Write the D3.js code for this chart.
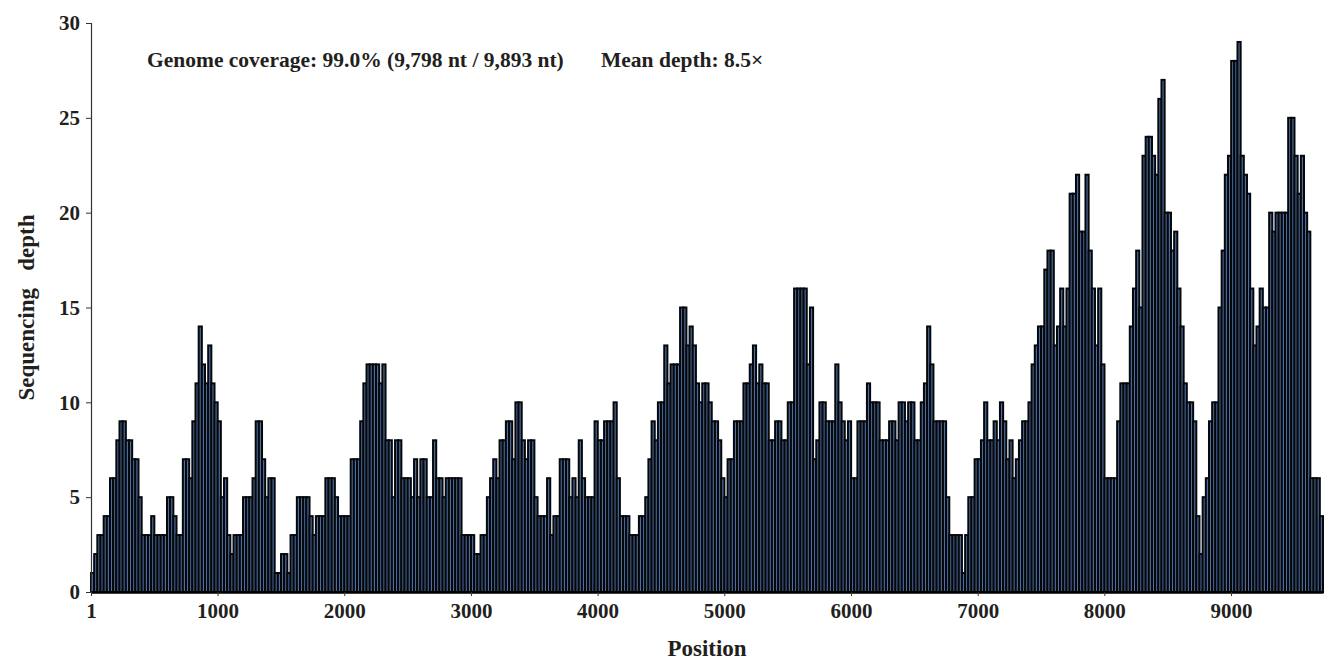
<!DOCTYPE html>
<html>
<head>
<meta charset="utf-8">
<script src="https://cdn.jsdelivr.net/npm/d3@7"></script>
<style>
html,body{margin:0;padding:0;background:#fff;}
svg{display:block;}
text{font-family:"Liberation Serif","Times New Roman",serif;font-weight:bold;fill:#231f20;}
</style>
</head>
<body>
<svg id="chart" width="1325" height="669"></svg>
<script>
// bin width (nt) and depth per bin
const binSize = 25;
const depth = [
 1,2,3,3,4,4,6,6,8,9,9,8,8,7,7,5,3,3,3,4,3,3,3,3,5,5,4,3,3,7,7,6,9,11,14,12,11,13,11,10,
 9,5,6,3,2,3,3,3,5,5,5,6,9,9,7,5,6,6,1,1,2,2,1,3,3,
 5,5,5,5,4,3,4,4,4,6,6,6,5,4,4,4,4,7,7,7,9,11,12,12,12,12,11,12,8,8,5,8,8,6,6,6,5,7,5,7,
 7,5,5,8,6,6,5,6,6,6,6,6,3,3,3,3,2,2,3,3,5,6,7,6,8,
 8,9,9,7,10,10,8,7,8,8,5,4,4,4,6,3,4,4,7,7,7,5,6,5,8,6,5,5,5,9,8,8,9,9,9,10,6,4,4,4,
 3,3,3,4,4,5,7,9,8,10,10,13,11,12,12,12,15,15,13,14,13,11,10,11,
 11,10,9,9,8,6,5,7,7,9,9,9,11,11,12,13,11,12,11,11,8,8,9,9,8,8,10,10,16,16,16,16,12,15,7,8,
 10,10,9,9,9,12,10,9,8,9,6,6,9,9,9,11,10,10,10,8,8,8,9,9,8,10,10,9,10,
 10,8,8,10,11,14,12,9,9,9,9,5,3,3,3,3,1,3,5,5,7,7,8,10,8,8,9,8,10,9,7,8,6,7,8,9,9,10,12,13,
 14,14,17,18,18,13,14,16,14,16,21,21,22,19,19,22,18,16,13,16,12,6,6,6,6,
 9,11,11,11,14,16,18,15,23,24,24,23,22,26,27,20,20,18,19,16,14,11,10,10,9,4,2,5,6,9,10,10,15,18,22,23,28,28,29,23,
 22,21,16,13,14,16,15,15,20,19,20,20,20,20,25,25,23,21,23,20,19,6,6,6,4
];
const xTicks = [1,1000,2000,3000,4000,5000,6000,7000,8000,9000];
const yTicks = [0,5,10,15,20,25,30];
const coverageText = "Genome coverage: 99.0% (9,798 nt / 9,893 nt)";
const meanText = "Mean depth: 8.5×";
const xTitle = "Position";
const yTitle = "Sequencing\u00a0\u00a0\u00a0depth";

const bins = depth.map((d,i)=>({start:1+i*binSize, end:1+(i+1)*binSize, v:d}));

const svg = d3.select("#chart");
const mLeft = 91, mRight = 1323, mTop = 23, mBottom = 592;

const x = d3.scaleLinear().domain([1, 1 + depth.length*binSize]).range([mLeft, mRight]);
const y = d3.scaleLinear().domain([0, 30]).range([mBottom, mTop]);

// bars
svg.append("g").selectAll("rect").data(bins).join("rect")
  .attr("x", d=>x(d.start))
  .attr("width", d=>x(d.end)-x(d.start))
  .attr("y", d=>y(d.v))
  .attr("height", d=>y(0)-y(d.v))
  .attr("fill", "#4d6e9e")
  .attr("stroke", "#05070a")
  .attr("stroke-width", 2);

// y axis
const yAxis = svg.append("g").attr("transform",`translate(${mLeft},0)`)
  .call(d3.axisLeft(y).tickValues(yTicks).tickSize(5).tickPadding(6).tickFormat(d3.format("d")));
yAxis.select(".domain").attr("stroke","#333").attr("stroke-width",1.2);
yAxis.selectAll(".tick line").attr("stroke","#333");
yAxis.selectAll("text").style("font-size","21px").attr("fill","#231f20");

// x axis
const xAxis = svg.append("g").attr("transform",`translate(0,${mBottom})`)
  .call(d3.axisBottom(x).tickValues(xTicks).tickSize(4).tickPadding(7).tickSizeOuter(0).tickFormat(d3.format("d")));
xAxis.select(".domain").attr("stroke","#000").attr("stroke-width",2.4);
xAxis.selectAll(".tick line").attr("stroke","#333");
xAxis.selectAll("text").style("font-size","21px").attr("fill","#231f20");

// annotations
svg.append("text").attr("x",147).attr("y",67).style("font-size","21.5px").text(coverageText);
svg.append("text").attr("x",601).attr("y",67).style("font-size","21.5px").text(meanText);

// axis titles
svg.append("text").attr("x",(mLeft+mRight)/2).attr("y",656).attr("text-anchor","middle")
  .style("font-size","23px").text(xTitle);
svg.append("text").attr("transform",`translate(34,${(mTop+mBottom)/2}) rotate(-90)`)
  .attr("text-anchor","middle").style("font-size","23px").text(yTitle);
</script>
</body>
</html>
